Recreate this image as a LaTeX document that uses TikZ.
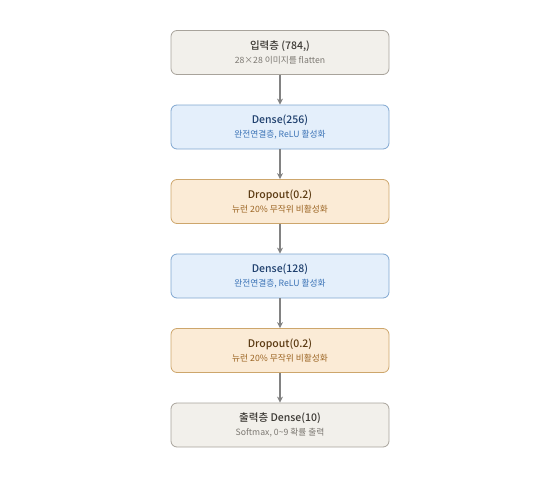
\documentclass[tikz,border=0pt]{standalone}
\usepackage{fontspec}
\usepackage{tikz}
\usetikzlibrary{arrows.meta}
\setmainfont{Noto Sans CJK KR}[BoldFont={Noto Sans CJK KR Medium}]
\definecolor{grayfill}{HTML}{F2F0EB}
\definecolor{grayline}{HTML}{A8A39B}
\definecolor{graytitle}{HTML}{3B3833}
\definecolor{graysub}{HTML}{7C7872}
\definecolor{bluefill}{HTML}{E4EFFB}
\definecolor{blueline}{HTML}{7FA6D0}
\definecolor{bluetitle}{HTML}{1E3F6D}
\definecolor{bluesub}{HTML}{3B73B6}
\definecolor{orangefill}{HTML}{FBEBD6}
\definecolor{orangeline}{HTML}{CDA66C}
\definecolor{orangetitle}{HTML}{5B3A12}
\definecolor{orangesub}{HTML}{9B6422}
\definecolor{arrowgray}{HTML}{828282}

\tikzset{
  layer/.style={draw, rounded corners=6pt, line width=0.8pt, minimum width=218pt,
    minimum height=44pt, inner sep=0pt, align=center},
  graybox/.style={layer, fill=grayfill, draw=grayline},
  bluebox/.style={layer, fill=bluefill, draw=blueline},
  orangebox/.style={layer, fill=orangefill, draw=orangeline},
  flow/.style={draw=arrowgray, line width=1.5pt, -{Stealth[length=6pt,width=6pt]}}
}
\newcommand{\boxtext}[4]{{\fontsize{10.5}{13}\selectfont\bfseries\color{#1}#2}\\[2.5pt]{\fontsize{8.7}{10}\selectfont\color{#3}#4}}

\begin{document}
\begin{tikzpicture}[x=1pt,y=-1pt]
    \useasboundingbox (0,0) rectangle (560,482);

    \node[graybox] (input) at (280,52.5) {\boxtext{graytitle}{입력층 (784,)}{graysub}{28×28 이미지를 flatten}};
    \node[bluebox] (dense1) at (280,127) {\boxtext{bluetitle}{Dense(256)}{bluesub}{완전연결층, ReLU 활성화}};
    \node[orangebox] (drop1) at (280,201.5) {\boxtext{orangetitle}{Dropout(0.2)}{orangesub}{뉴런 20\% 무작위 비활성화}};
    \node[bluebox] (dense2) at (280,276) {\boxtext{bluetitle}{Dense(128)}{bluesub}{완전연결층, ReLU 활성화}};
    \node[orangebox] (drop2) at (280,350.5) {\boxtext{orangetitle}{Dropout(0.2)}{orangesub}{뉴런 20\% 무작위 비활성화}};
    \node[graybox] (output) at (280,425) {\boxtext{graytitle}{출력층 Dense(10)}{graysub}{Softmax, 0\textasciitilde9 확률 출력}};

    \draw[flow] (input)--(dense1);
    \draw[flow] (dense1)--(drop1);
    \draw[flow] (drop1)--(dense2);
    \draw[flow] (dense2)--(drop2);
    \draw[flow] (drop2)--(output);

\end{tikzpicture}
\end{document}
